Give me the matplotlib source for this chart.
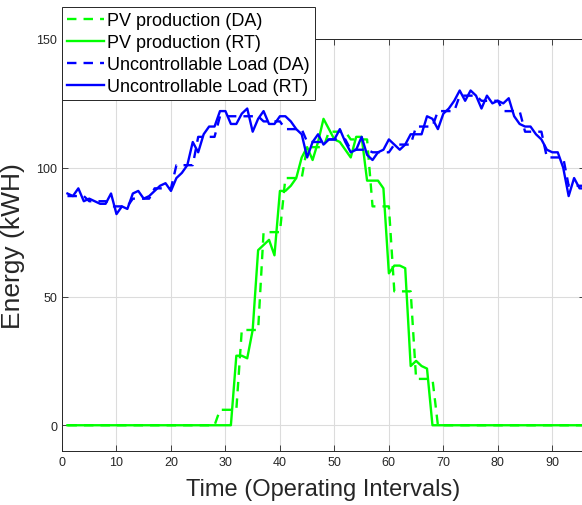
import numpy as np
import matplotlib
matplotlib.use("Agg")
import matplotlib.pyplot as plt

plt.rcParams['font.family'] = ['Liberation Sans', 'DejaVu Sans']

# operating intervals (15 min), 1..96
intervals = np.arange(1, 97)

# day-ahead values are hourly, each hour covers 4 intervals
pv_da_hourly = [0, 0, 0, 0, 0, 0, 0, 6, 37, 75, 96, 108,
                114, 111, 85, 52, 18, 0, 0, 0, 0, 0, 0, 0]
load_da_hourly = [89, 87, 85, 88, 92, 101, 112, 120, 120, 118, 115, 110,
                  111, 107, 106, 109, 116, 122, 128, 126, 122, 114, 104, 93]

pv_rt = [0, 0, 0, 0, 0, 0, 0, 0, 0, 0,
         0, 0, 0, 0, 0, 0, 0, 0, 0, 0,
         0, 0, 0, 0, 0, 0, 0, 0, 0, 0,
         0, 27, 27, 26, 37, 68, 70, 72, 66, 91,
         91, 93, 96, 104, 108, 103, 110, 119, 115, 111,
         110, 107, 104, 112, 112, 95, 95, 95, 92, 59,
         62, 62, 61, 23, 25, 23, 22, 0, 0, 0,
         0, 0, 0, 0, 0, 0, 0, 0, 0, 0,
         0, 0, 0, 0, 0, 0, 0, 0, 0, 0,
         0, 0, 0, 0, 0, 0]

load_rt = [90, 89, 92, 87, 88, 87, 86, 86, 90, 82,
           85, 84, 90, 91, 88, 89, 91, 93, 94, 91,
           96, 98, 101, 110, 106, 113, 116, 116, 122, 122,
           117, 117, 121, 123, 114, 119, 122, 117, 117, 120,
           120, 118, 115, 113, 104, 110, 113, 109, 111, 111,
           115, 110, 106, 107, 112, 105, 103, 106, 107, 111,
           109, 107, 109, 113, 113, 113, 120, 119, 115, 121,
           123, 126, 130, 126, 130, 128, 123, 128, 125, 126,
           125, 127, 120, 117, 116, 116, 113, 111, 107, 106,
           106, 100, 89, 96, 92, 92]

pv_da = np.repeat(pv_da_hourly, 4)
load_da = np.repeat(load_da_hourly, 4)

green = '#00ff00'
blue = '#0000ff'
dash = (0, (4, 3))

fig = plt.figure(figsize=(5.82, 5.06), dpi=100)
ax = fig.add_axes([62 / 582, 54 / 506, 523 / 582, 412 / 506])

ax.plot(intervals, pv_da, color=green, lw=1.7, linestyle=dash, label='PV production (DA)')
ax.plot(intervals, pv_rt, color=green, lw=1.7, label='PV production (RT)')
ax.plot(intervals, load_da, color=blue, lw=1.7, linestyle=dash, label='Uncontrollable Load (DA)')
ax.plot(intervals, load_rt, color=blue, lw=1.7, label='Uncontrollable Load (RT)')

ax.set_xlim(0, 96)
ax.set_ylim(-10, 150)
ax.set_xticks(range(0, 100, 10))
ax.set_yticks([0, 50, 100, 150])
ax.grid(True, color='#dcdcdc', lw=0.8)
ax.set_axisbelow(True)
ax.tick_params(direction='in', length=4, width=0.6, colors='#262626',
               labelsize=9, top=True, right=True)
for sp in ax.spines.values():
    sp.set_color('#262626')
    sp.set_linewidth(0.7)

ax.set_xlabel('Time (Operating Intervals)', fontsize=17, color='#262626', labelpad=7)
ax.set_ylabel('Energy (kWH)', fontsize=19, color='#262626', labelpad=8)

leg = ax.legend(loc='upper left', bbox_to_anchor=(62 / 582, 1 - 8 / 506),
                bbox_transform=fig.transFigure, borderaxespad=0, fontsize=13,
                fancybox=False, framealpha=1, edgecolor='#262626',
                handlelength=2.0, handletextpad=0.2, labelspacing=0.27,
                borderpad=0.3)
leg.get_frame().set_linewidth(0.7)

fig.savefig('out.png', dpi=100)
